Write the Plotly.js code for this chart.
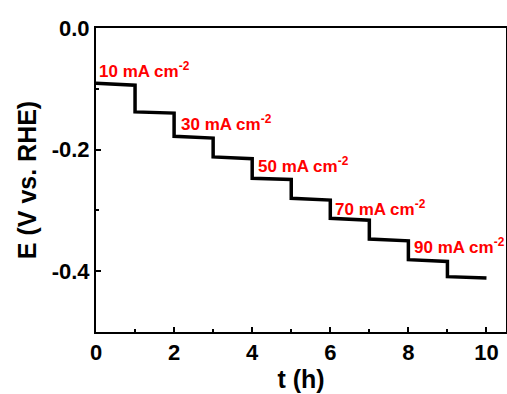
<!DOCTYPE html>
<html><head><meta charset="utf-8">
<script src="https://cdn.plot.ly/plotly-3.0.1.min.js"></script>
<style>html,body{margin:0;padding:0;background:#fff}#c{width:507px;height:394px}</style>
</head><body><div id="c"></div>
<script>
var tPts = [0,1,1,2,2,3,3,4,4,5,5,6,6,7,7,8,8,9,9,10];
var ePts = [-0.091,-0.094,-0.138,-0.140,-0.178,-0.181,-0.212,-0.215,-0.247,-0.249,
            -0.280,-0.283,-0.313,-0.316,-0.347,-0.350,-0.381,-0.384,-0.409,-0.411];
var labels = ['10 mA cm<sup>-2</sup>','30 mA cm<sup>-2</sup>','50 mA cm<sup>-2</sup>','70 mA cm<sup>-2</sup>','90 mA cm<sup>-2</sup>'];
var labelX = [0.03, 2.12, 4.11, 6.08, 8.08];
var labelY = [-0.069, -0.156, -0.225, -0.296, -0.359];
var xTicks = [0,2,4,6,8,10];
var yTicks = [0.0,-0.2,-0.4];
var yTickText = ['0.0','-0.2','-0.4'];

var fam = 'Liberation Sans, Arial, sans-serif';
var ann = labels.map(function(s,i){
  return {x:labelX[i], y:labelY[i], text:s, xref:'x', yref:'y', xanchor:'left', yanchor:'middle',
    showarrow:false, font:{family:fam, size:17, color:'#ff0000', weight:'bold'}};
});
var data = [{x:tPts, y:ePts, type:'scatter', mode:'lines', line:{color:'#000', width:3.5}, hoverinfo:'none'}];
var layout = {
  width:507, height:394, margin:{l:96, r:1, t:28, b:62},
  paper_bgcolor:'#fff', plot_bgcolor:'#fff', showlegend:false,
  xaxis:{range:[0,10.5], tickvals:xTicks, ticks:'inside', ticklen:5, tickwidth:2, tickcolor:'#000',
    showline:true, linewidth:2, linecolor:'#000', mirror:true, showgrid:false, zeroline:false,
    minor:{tickvals:[1,3,5,7,9], ticks:'inside', ticklen:3, tickwidth:2, tickcolor:'#000'},
    tickfont:{family:fam, size:22, color:'#000', weight:'bold'},
    title:{text:'t (h)', font:{family:fam, size:25, color:'#000', weight:'bold'}, standoff:2}},
  yaxis:{range:[-0.5,0], tickvals:yTicks, ticktext:yTickText, ticks:'inside', ticklen:5, tickwidth:2, tickcolor:'#000',
    showline:true, linewidth:2, linecolor:'#000', mirror:true, showgrid:false, zeroline:false,
    minor:{tickvals:[-0.1,-0.3], ticks:'inside', ticklen:3, tickwidth:2, tickcolor:'#000'},
    tickfont:{family:fam, size:22, color:'#000', weight:'bold'},
    title:{text:'E (V vs. RHE)', font:{family:fam, size:25, color:'#000', weight:'bold'}, standoff:8}},
  annotations:ann
};
Plotly.newPlot('c', data, layout, {staticPlot:true, displayModeBar:false});
</script></body></html>
